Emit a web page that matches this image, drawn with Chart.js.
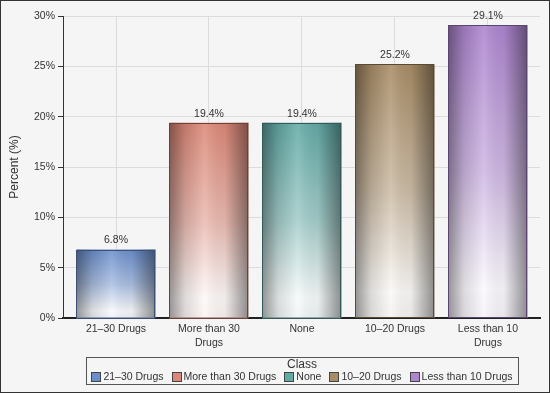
<!DOCTYPE html>
<html lang="en">
<head>
<meta charset="UTF-8" />
<title>Percent by Class</title>
<script src="https://cdn.jsdelivr.net/npm/chart.js"></script>
<style>
  html, body { margin: 0; padding: 0; background: #f5f5f5; }
</style>
</head>
<body>
<canvas id="chartClass" width="550" height="393"></canvas>

<script>
// data
const categories = ['21–30 Drugs', 'More than 30 Drugs', 'None', '10–20 Drugs', 'Less than 10 Drugs'];
const tickLabels = [['21–30 Drugs'], ['More than 30', 'Drugs'], ['None'], ['10–20 Drugs'], ['Less than 10', 'Drugs']];
const percents = [6.8, 19.4, 19.4, 25.2, 29.1];
const barColors = ['#6b8fcc', '#dc8878', '#63aaa6', '#a88c66', '#ad85cf'];
const edgeColors = ['#3d4f72', '#6e4038', '#345a58', '#5a4a33', '#5c4470'];
const yTicks = [0, 5, 10, 15, 20, 25, 30];

const FONT = "'Liberation Sans', Arial, sans-serif";
const TXT = '#333333';

// background, bar shading, value labels, legend, frame
const decor = {
  id: 'decor',
  beforeDraw(chart) {
    const c = chart.ctx;
    c.save();
    c.fillStyle = '#f5f5f5';
    c.fillRect(0, 0, chart.width, chart.height);
    c.restore();
  },
  afterDatasetsDraw(chart) {
    const c = chart.ctx;
    const meta = chart.getDatasetMeta(0);
    meta.data.forEach((bar, i) => {
      const p = bar.getProps(['x', 'y', 'base', 'width'], true);
      const l = p.x - p.width / 2, r = p.x + p.width / 2;
      const t = p.y, b = p.base;
      c.save();
      let g = c.createLinearGradient(0, t, 0, b);
      g.addColorStop(0, 'rgba(255,255,255,0)');
      g.addColorStop(0.5, 'rgba(255,255,255,0.42)');
      g.addColorStop(0.9, 'rgba(255,255,255,0.95)');
      g.addColorStop(1, 'rgba(255,255,255,0.9)');
      c.fillStyle = g;
      c.fillRect(l, t, r - l, b - t);
      g = c.createLinearGradient(l, 0, r, 0);
      g.addColorStop(0, 'rgba(0,0,0,0.4)');
      g.addColorStop(0.2, 'rgba(0,0,0,0.12)');
      g.addColorStop(0.45, 'rgba(255,255,255,0.12)');
      g.addColorStop(0.7, 'rgba(0,0,0,0.05)');
      g.addColorStop(1, 'rgba(0,0,0,0.44)');
      c.fillStyle = g;
      c.fillRect(l, t, r - l, b - t);
      c.strokeStyle = edgeColors[i];
      c.lineWidth = 1;
      c.strokeRect(Math.round(l) + 0.5, Math.round(t) + 0.5, Math.round(r - l) - 1, Math.round(b - t));
      c.fillStyle = TXT;
      c.font = '10.5px ' + FONT;
      c.textAlign = 'center';
      c.textBaseline = 'middle';
      c.fillText(percents[i].toFixed(1) + '%', p.x, t - 9);
      c.restore();
    });
  },
  afterDraw(chart) {
    const c = chart.ctx;
    c.save();
    // legend
    const boxL = 86, boxR = 518, boxT = 357, boxB = 384;
    c.strokeStyle = '#555';
    c.lineWidth = 1;
    c.strokeRect(boxL + 0.5, boxT + 0.5, boxR - boxL, boxB - boxT);
    c.fillStyle = TXT;
    c.textBaseline = 'middle';
    c.textAlign = 'center';
    c.font = '12px ' + FONT;
    c.fillText('Class', (boxL + boxR) / 2, 365);
    c.font = '10.5px ' + FONT;
    const sw = 9, gapText = 3, gapItem = 8;
    const widths = categories.map(t => c.measureText(t).width);
    const total = widths.reduce((a, w) => a + sw + gapText + w, 0) + gapItem * (categories.length - 1);
    let x = (boxL + boxR) / 2 - total / 2;
    const cy = 377;
    c.textAlign = 'left';
    categories.forEach((t, i) => {
      c.fillStyle = barColors[i];
      c.fillRect(Math.round(x) + 0.5, cy - 4.5, sw, sw);
      c.strokeStyle = '#444';
      c.strokeRect(Math.round(x) + 0.5, cy - 4.5, sw, sw);
      x += sw + gapText;
      c.fillStyle = TXT;
      c.fillText(t, x, cy);
      x += widths[i] + gapItem;
    });
    // outer frame
    c.strokeStyle = '#333';
    c.strokeRect(0.5, 0.5, chart.width - 1, chart.height - 1);
    c.restore();
  }
};

new Chart(document.getElementById('chartClass'), {
  type: 'bar',
  data: {
    datasets: [{
      label: 'Percent',
      data: percents.map((v, i) => ({ x: i, y: v })),
      backgroundColor: barColors,
      borderWidth: 0,
      categoryPercentage: 0.85,
      barPercentage: 1
    }]
  },
  options: {
    responsive: false,
    animation: false,
    layout: { padding: { top: 16, right: 10, bottom: 36, left: 0 } },
    plugins: {
      tooltip: { enabled: false },
      legend: { display: false }
    },
    scales: {
      x: {
        type: 'linear',
        min: -0.57,
        max: 4.56,
        offset: false,
        afterBuildTicks: s => { s.ticks = categories.map((_, i) => ({ value: i })); },
        grid: { color: '#dcdcdc', drawTicks: false, offset: false },
        border: { color: '#222', width: 2 },
        ticks: {
          color: TXT,
          font: { family: FONT, size: 10.5, lineHeight: 1.25 },
          padding: 5,
          maxRotation: 0,
          autoSkip: false,
          callback: v => tickLabels[v]
        },
        afterFit: s => { s.height = 39; }
      },
      y: {
        min: 0,
        max: 30,
        afterBuildTicks: s => { s.ticks = yTicks.map(v => ({ value: v })); },
        grid: { color: '#dcdcdc', tickColor: '#333', tickLength: 5 },
        border: { color: '#333', width: 1 },
        ticks: { color: TXT, font: { family: FONT, size: 10.5 }, padding: 3, callback: v => v + '%' },
        title: { display: true, text: 'Percent (%)', color: TXT, font: { family: FONT, size: 12 }, padding: { top: 7, bottom: 0 } },
        afterFit: s => { s.width = 63; }
      }
    }
  },
  plugins: [decor]
});
</script>
</body>
</html>
